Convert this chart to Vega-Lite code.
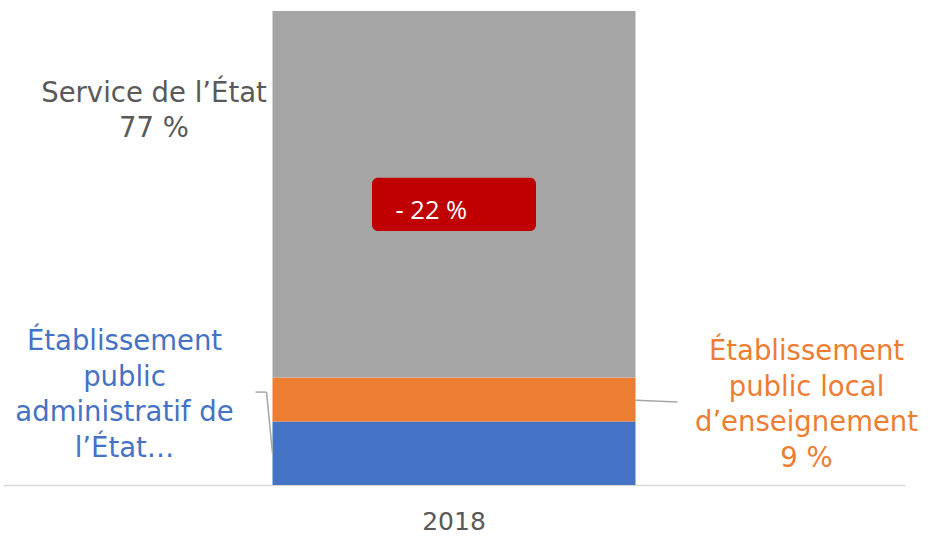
{
  "$schema": "https://vega.github.io/schema/vega-lite/v6.json",
  "width": 902,
  "height": 474,
  "autosize": {"type": "none"},
  "padding": {"left": 3, "top": 11, "right": 24, "bottom": 52},
  "background": "#ffffff",
  "config": {"view": {"stroke": null}, "font": "DejaVu Sans"},
  "data": {
    "values": [
      {"annee": "2018", "categorie": "Établissement public administratif de l’État", "part": 13.4, "ordre": 1, "label": ["Établissement", "public", "administratif de", "l’État…"], "variation": ""},
      {"annee": "2018", "categorie": "Établissement public local d’enseignement", "part": 9.3, "ordre": 2, "label": ["Établissement", "public local", "d’enseignement", "9 %"], "variation": ""},
      {"annee": "2018", "categorie": "Service de l’État", "part": 77.3, "ordre": 3, "label": ["Service de l’État", "77 %"], "variation": "- 22 %"}
    ]
  },
  "encoding": {
    "x": {
      "field": "annee",
      "type": "nominal",
      "scale": {"paddingInner": 0, "paddingOuter": 0.7424},
      "axis": {
        "title": null,
        "labelAngle": 0,
        "ticks": false,
        "tickSize": 0,
        "labelFontSize": 25,
        "labelColor": "#595959",
        "labelPadding": 24,
        "labelFont": "DejaVu Sans",
        "domainColor": "#D9D9D9",
        "domainWidth": 1.5
      }
    }
  },
  "layer": [
    {
      "mark": {"type": "bar"},
      "encoding": {
        "y": {"field": "part", "type": "quantitative", "stack": "zero", "scale": {"domain": [0, 100], "nice": false, "zero": true}, "axis": null},
        "order": {"field": "ordre", "type": "quantitative", "sort": "ascending"},
        "color": {
          "field": "categorie",
          "type": "nominal",
          "scale": {
            "domain": ["Établissement public administratif de l’État", "Établissement public local d’enseignement", "Service de l’État"],
            "range": ["#4472C4", "#ED7D31", "#A5A5A5"]
          },
          "legend": null
        }
      }
    },
    {
      "transform": [{"filter": "datum.ordre == 3"}],
      "mark": {"type": "bar", "width": 164, "cornerRadius": 6, "color": "#C00000"},
      "encoding": {
        "y": {"datum": 64.8, "type": "quantitative"},
        "y2": {"datum": 53.6}
      }
    },
    {
      "transform": [{"filter": "datum.ordre == 3"}],
      "mark": {"type": "text", "align": "left", "baseline": "alphabetic", "dx": -58.5, "color": "#ffffff", "font": "Open Sans", "fontSize": 25.5},
      "encoding": {
        "y": {"datum": 56.1, "type": "quantitative"},
        "text": {"field": "variation", "type": "nominal"}
      }
    },
    {
      "transform": [
        {"stack": "part", "groupby": ["annee"], "sort": [{"field": "ordre"}], "as": ["debut", "fin"]},
        {"filter": "datum.ordre == 1"}
      ],
      "mark": {"type": "text", "align": "center", "baseline": "alphabetic", "dx": -329.5, "dy": -71.5, "fontSize": 27.5, "lineHeight": 35.7, "color": "#4472C4"},
      "encoding": {
        "y": {"field": "fin", "type": "quantitative"},
        "text": {"field": "label", "type": "nominal"}
      }
    },
    {
      "transform": [
        {"stack": "part", "groupby": ["annee"], "sort": [{"field": "ordre"}], "as": ["debut", "fin"]},
        {"filter": "datum.ordre == 2"}
      ],
      "mark": {"type": "text", "align": "center", "baseline": "alphabetic", "dx": 352.5, "dy": -17.4, "fontSize": 27.5, "lineHeight": 35.7, "color": "#ED7D31"},
      "encoding": {
        "y": {"field": "fin", "type": "quantitative"},
        "text": {"field": "label", "type": "nominal"}
      }
    },
    {
      "transform": [
        {"stack": "part", "groupby": ["annee"], "sort": [{"field": "ordre"}], "as": ["debut", "fin"]},
        {"filter": "datum.ordre == 3"}
      ],
      "mark": {"type": "text", "align": "center", "baseline": "alphabetic", "dx": -300, "dy": 90.7, "fontSize": 27.5, "lineHeight": 35.7, "color": "#595959"},
      "encoding": {
        "y": {"field": "fin", "type": "quantitative"},
        "text": {"field": "label", "type": "nominal"}
      }
    },
    {
      "transform": [{"filter": "datum.ordre == 1"}],
      "mark": {"type": "rule", "color": "#A6A6A6", "strokeWidth": 1.5, "xOffset": -198.5, "x2Offset": -187.5},
      "encoding": {
        "x": {"field": "annee", "type": "nominal"},
        "x2": {"field": "annee"},
        "y": {"datum": 19.6, "type": "quantitative"},
        "y2": {"datum": 19.6}
      }
    },
    {
      "transform": [{"filter": "datum.ordre == 1"}],
      "mark": {"type": "rule", "color": "#A6A6A6", "strokeWidth": 1.5, "xOffset": -187.5, "x2Offset": -181.5},
      "encoding": {
        "x": {"field": "annee", "type": "nominal"},
        "x2": {"field": "annee"},
        "y": {"datum": 19.6, "type": "quantitative"},
        "y2": {"datum": 6.75}
      }
    },
    {
      "transform": [{"filter": "datum.ordre == 2"}],
      "mark": {"type": "rule", "color": "#A6A6A6", "strokeWidth": 1.5, "xOffset": 181.5, "x2Offset": 223.5},
      "encoding": {
        "x": {"field": "annee", "type": "nominal"},
        "x2": {"field": "annee"},
        "y": {"datum": 17.9, "type": "quantitative"},
        "y2": {"datum": 17.5}
      }
    }
  ]
}
